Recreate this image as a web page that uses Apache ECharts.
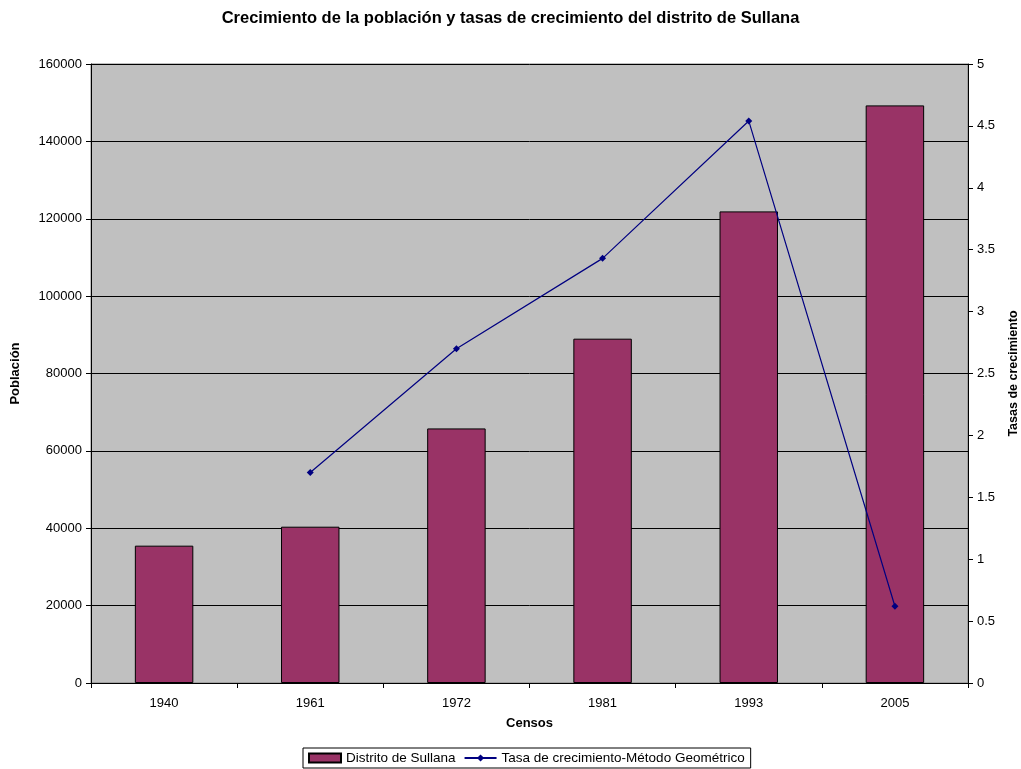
<!DOCTYPE html>
<html>
<head>
<meta charset="utf-8">
<script src="https://cdn.jsdelivr.net/npm/echarts@6/dist/echarts.min.js"></script>
<style>html,body{margin:0;padding:0;background:#fff;}#c{width:1021px;height:769px;}</style>
</head>
<body>
<div id="c"></div>
<script>
const categories = ['1940', '1961', '1972', '1981', '1993', '2005'];
const poblacion = [35500, 40400, 65800, 89000, 121900, 149300];
const tasa = [null, 1.70, 2.70, 3.43, 4.54, 0.62];
const leftTicks = { min: 0, max: 160000, interval: 20000 };
const rightTicks = { min: 0, max: 5, interval: 0.5 };

const FONT = 'Liberation Sans, Arial, sans-serif';
const chart = echarts.init(document.getElementById('c'), null, { renderer: 'canvas' });
chart.setOption({
  animation: false,
  backgroundColor: '#ffffff',
  textStyle: { fontFamily: FONT },
  title: {
    text: 'Crecimiento de la población y tasas de crecimiento del distrito de Sullana',
    left: 'center', top: 5,
    textStyle: { fontFamily: FONT, fontSize: 16.5, fontWeight: 'bold', color: '#000' }
  },
  legend: {
    bottom: 1, left: 303,
    borderColor: '#000', borderWidth: 1, padding: [3, 6, 3, 5],
    itemGap: 8, itemWidth: 32, itemHeight: 9,
    textStyle: { fontFamily: FONT, fontSize: 13.5, color: '#000' },
    data: [
      { name: 'Distrito de Sullana', icon: 'rect' },
      { name: 'Tasa de crecimiento-Método Geométrico' }
    ]
  },
  grid: {
    left: 91, right: 53, top: 64, bottom: 86,
    outerBoundsMode: 'none', containLabel: false,
    show: true, backgroundColor: '#C0C0C0', borderColor: '#808080', borderWidth: 1
  },
  xAxis: {
    type: 'category', data: categories, boundaryGap: true,
    name: 'Censos', nameLocation: 'middle', nameGap: 34,
    nameTextStyle: { fontFamily: FONT, fontSize: 13, fontWeight: 'bold', color: '#000' },
    axisLine: { lineStyle: { color: '#000', width: 1 } },
    axisTick: { show: true, interval: 0, length: 5, lineStyle: { color: '#000' } },
    axisLabel: { color: '#000', fontSize: 13, margin: 14, fontFamily: FONT }
  },
  yAxis: [
    {
      type: 'value', min: leftTicks.min, max: leftTicks.max, interval: leftTicks.interval,
      name: 'Población', nameLocation: 'middle', nameGap: 69, nameRotate: 90,
      nameTextStyle: { fontFamily: FONT, fontSize: 13, fontWeight: 'bold', color: '#000' },
      axisLine: { show: true, lineStyle: { color: '#000', width: 1 } },
      axisTick: { show: true, length: 5, lineStyle: { color: '#000' } },
      axisLabel: { color: '#000', fontSize: 13, margin: 9, fontFamily: FONT, formatter: v => String(v) },
      splitLine: { show: true, lineStyle: { color: '#000', width: 1 } }
    },
    {
      type: 'value', position: 'right', min: rightTicks.min, max: rightTicks.max, interval: rightTicks.interval,
      name: 'Tasas de crecimiento', nameLocation: 'middle', nameGap: 39, nameRotate: 90,
      nameTextStyle: { fontFamily: FONT, fontSize: 12.5, fontWeight: 'bold', color: '#000' },
      axisLine: { show: true, lineStyle: { color: '#000', width: 1 } },
      axisTick: { show: true, length: 5, lineStyle: { color: '#000' } },
      axisLabel: { color: '#000', fontSize: 13, margin: 9, fontFamily: FONT, formatter: v => String(v) },
      splitLine: { show: false }
    }
  ],
  series: [
    {
      name: 'Distrito de Sullana', type: 'bar', yAxisIndex: 0, data: poblacion,
      barWidth: '40%',
      itemStyle: { color: '#993366', borderColor: '#000', borderWidth: 1 }
    },
    {
      name: 'Tasa de crecimiento-Método Geométrico', type: 'line', yAxisIndex: 1, data: tasa,
      symbol: 'diamond', symbolSize: 7, showSymbol: true,
      lineStyle: { color: '#000080', width: 1.2 },
      itemStyle: { color: '#000080' }
    }
  ]
});
</script>
</body>
</html>
